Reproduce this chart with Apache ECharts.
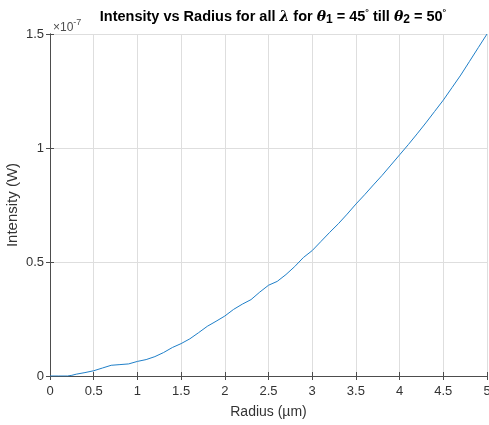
<!DOCTYPE html>
<html>
<head>
<meta charset="utf-8">
<script src="https://cdn.jsdelivr.net/npm/echarts@6/dist/echarts.min.js"></script>
<style>
html, body { margin: 0; padding: 0; background: #fff; }
#main { width: 489px; height: 425px; }
</style>
</head>
<body>
<div id="main"></div>
<script>
// radius in um, intensity in units of 1e-7 W
var radius = [0, 0.1, 0.2, 0.25, 0.3, 0.4, 0.5, 0.6, 0.7, 0.8, 0.9, 1.0, 1.1, 1.2, 1.3, 1.4, 1.5,
	1.6, 1.7, 1.8, 1.9, 2.0, 2.1, 2.2, 2.3, 2.4, 2.5, 2.6, 2.7, 2.8, 2.9, 3.0, 3.1, 3.2, 3.3,
	3.4, 3.5, 3.6, 3.7, 3.8, 3.9, 4.0, 4.1, 4.2, 4.3, 4.4, 4.5, 4.6, 4.7, 4.8, 4.9, 5.0];
var intensityE7 = [0, 0, 0, 0.003, 0.008, 0.015, 0.023, 0.035, 0.047, 0.05, 0.053, 0.064, 0.072, 0.085, 0.103, 0.125, 0.142,
	0.163, 0.19, 0.218, 0.24, 0.263, 0.292, 0.315, 0.335, 0.368, 0.398, 0.415, 0.445, 0.48, 0.52, 0.55, 0.59, 0.63, 0.668,
	0.71, 0.754, 0.795, 0.838, 0.88, 0.925, 0.97, 1.015, 1.062, 1.11, 1.16, 1.21, 1.265, 1.32, 1.38, 1.44, 1.5];
var xTicks = [0, 5, 0.5];
var yTicks = [0, 1.5, 0.5];

var font = 'Liberation Sans, Arial, Helvetica, sans-serif';
var axisColor = '#4d4d4d';
var textColor = '#333333';

var points = [];
for (var i = 0; i < radius.length; i++) {
	points.push([radius[i], intensityE7[i]]);
}

var chart = echarts.init(document.getElementById('main'), null, {renderer: 'canvas'});
var option = {
	backgroundColor: '#fff',
	animation: false,
	title: {
		text: '{b|Intensity vs Radius for all }{g|λ}{b| for }{g|θ}{s|1}{b| = 45}{u|°}{b| till }{g|θ}{s|2}{b| = 50}{u|°}',
		left: 268,
		textAlign: 'center',
		top: 3,
		textStyle: {
			rich: {
				b: {fontFamily: font, fontWeight: 'bold', fontSize: 14.5, color: '#000', lineHeight: 18, verticalAlign: 'middle'},
				g: {fontFamily: 'DejaVu Serif, serif', fontStyle: 'italic', fontSize: 14, color: '#000', lineHeight: 18, verticalAlign: 'middle'},
				s: {fontFamily: font, fontWeight: 'bold', fontSize: 12, color: '#000', lineHeight: 18, verticalAlign: 'bottom', padding: [9, 0, 0, 0]},
				u: {fontFamily: font, fontSize: 9, color: '#000', lineHeight: 18, verticalAlign: 'top', padding: [0, 0, 9, 0]}
			}
		}
	},
	graphic: [{
		type: 'text',
		left: 53,
		top: 17,
		style: {
			text: '{a|×10}{p|-7}',
			rich: {
				a: {fontFamily: font, fontSize: 12, fill: '#4d4d4d', lineHeight: 16, verticalAlign: 'bottom', padding: [5, 0, 0, 0]},
				p: {fontFamily: font, fontSize: 9, fill: '#4d4d4d', lineHeight: 16, verticalAlign: 'top', padding: [0, 0, 5, 0]}
			}
		}
	}],
	grid: {left: 50, right: 2, top: 34, bottom: 49, containLabel: false, outerBoundsMode: 'none'},
	xAxis: [{
		type: 'value',
		min: xTicks[0], max: xTicks[1], interval: xTicks[2],
		name: 'Radius (µm)',
		nameLocation: 'middle',
		nameGap: 29,
		nameMoveOverlap: false,
		nameTextStyle: {fontFamily: font, fontSize: 14, color: textColor},
		axisLine: {show: true, lineStyle: {color: axisColor, width: 1}},
		axisTick: {show: true, inside: true, length: 4, lineStyle: {color: axisColor}},
		axisLabel: {fontFamily: font, fontSize: 13, color: textColor, margin: 9},
		splitLine: {show: true, lineStyle: {color: '#dedede', width: 1}}
	}, {
		type: 'value',
		position: 'top',
		min: xTicks[0], max: xTicks[1], interval: xTicks[2],
		axisLine: {show: true, lineStyle: {color: axisColor, width: 1}},
		axisTick: {show: true, inside: true, length: 4, lineStyle: {color: axisColor}},
		axisLabel: {show: false},
		splitLine: {show: false}
	}],
	yAxis: [{
		type: 'value',
		min: yTicks[0], max: yTicks[1], interval: yTicks[2],
		name: 'Intensity (W)',
		nameLocation: 'middle',
		nameGap: 30,
		nameMoveOverlap: false,
		nameRotate: 90,
		nameTextStyle: {fontFamily: font, fontSize: 15, color: textColor},
		axisLine: {show: true, lineStyle: {color: axisColor, width: 1}},
		axisTick: {show: true, inside: true, length: 4, lineStyle: {color: axisColor}},
		axisLabel: {fontFamily: font, fontSize: 13, color: textColor, margin: 6},
		splitLine: {show: true, lineStyle: {color: '#dedede', width: 1}}
	}, {
		type: 'value',
		position: 'right',
		min: yTicks[0], max: yTicks[1], interval: yTicks[2],
		axisLine: {show: true, lineStyle: {color: axisColor, width: 1}},
		axisTick: {show: true, inside: true, length: 4, lineStyle: {color: axisColor}},
		axisLabel: {show: false},
		splitLine: {show: false}
	}],
	series: [{
		type: 'line',
		data: points,
		showSymbol: false,
		smooth: false,
		lineStyle: {color: '#1f7fc8', width: 1},
		itemStyle: {color: '#1f7fc8'}
	}]
};
chart.setOption(option);
</script>
</body>
</html>
